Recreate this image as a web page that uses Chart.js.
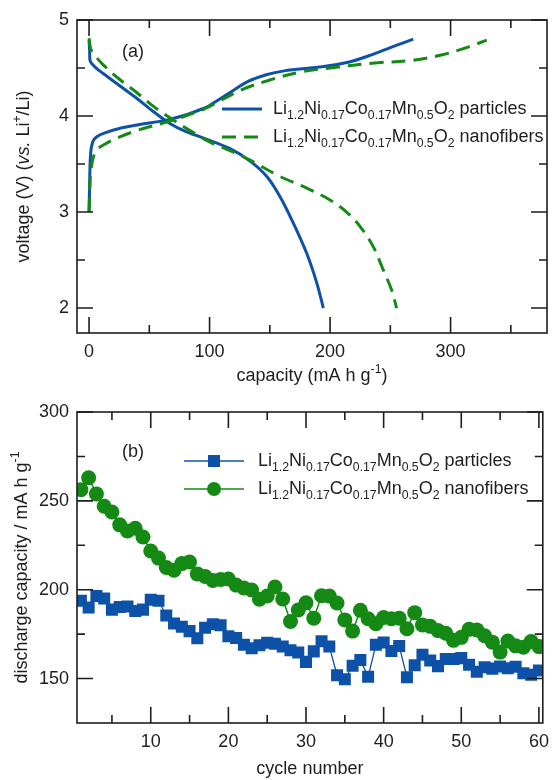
<!DOCTYPE html>
<html>
<head>
<meta charset="utf-8">
<script src="https://cdn.jsdelivr.net/npm/chart.js@4/dist/chart.umd.min.js"></script>
<style>
  html, body { margin: 0; padding: 0; background: #fff; }
  .panel { width: 557px; height: 390px; }
  canvas { display: block; }
</style>
</head>
<body>
<div class="panel"><canvas id="chartA" width="557" height="390"></canvas></div>
<div class="panel"><canvas id="chartB" width="557" height="390"></canvas></div>
<script>
// (a) charge / discharge curves, capacity in mA h g-1, voltage in V
const particleChargeCap = [0, 0.5, 1, 2, 3.8, 7, 12, 25, 40, 65, 80, 95, 100, 114, 132, 147, 162, 191, 215, 235, 256, 269];
const particleChargeVolt = [3.0, 3.3, 3.55, 3.68, 3.75, 3.79, 3.82, 3.87, 3.906, 3.96, 4.01, 4.08, 4.11, 4.22, 4.36, 4.43, 4.47, 4.51, 4.56, 4.64, 4.74, 4.80];
const particleDischargeCap = [0, 0.5, 1, 5, 12, 26, 40, 53.5, 67.4, 80, 95, 117, 133.6, 147.5, 158.5, 169.7, 180.6, 189, 194.4];
const particleDischargeVolt = [4.79, 4.68, 4.57, 4.51, 4.44, 4.31, 4.18, 4.045, 3.92, 3.84, 3.77, 3.66, 3.53, 3.37, 3.16, 2.88, 2.57, 2.26, 2.0];
const fiberChargeCap = [0, 0.8, 1.5, 3.3, 6.6, 15, 25, 40, 65, 80, 95, 100, 126, 150, 176, 200, 235, 268, 294, 315, 330];
const fiberChargeVolt = [3.0, 3.3, 3.42, 3.56, 3.65, 3.72, 3.78, 3.85, 3.94, 4.0, 4.07, 4.1, 4.27, 4.375, 4.46, 4.5, 4.55, 4.58, 4.64, 4.72, 4.79];
const fiberDischargeCap = [0, 1, 2.4, 12, 26, 40, 53.5, 67.4, 81, 100, 117, 133.6, 158.5, 180.6, 200, 213.7, 224.8, 235.8, 244, 251, 255.2];
const fiberDischargeVolt = [4.81, 4.72, 4.67, 4.53, 4.375, 4.24, 4.1, 3.98, 3.87, 3.73, 3.64, 3.54, 3.37, 3.25, 3.125, 3.0, 2.85, 2.64, 2.4, 2.19, 2.0];

// (b) discharge capacity per cycle
const cycles = [1, 2, 3, 4, 5, 6, 7, 8, 9, 10, 11, 12, 13, 14, 15, 16, 17, 18, 19, 20,
  21, 22, 23, 24, 25, 26, 27, 28, 29, 30, 31, 32, 33, 34, 35, 36, 37, 38, 39, 40,
  41, 42, 43, 44, 45, 46, 47, 48, 49, 50, 51, 52, 53, 54, 55, 56, 57, 58, 59, 60];
const particleCapacity = [193.8, 190.0, 196.4, 195.0, 188.8, 190.3, 190.6, 188.0, 188.8, 194.4,
  193.8, 185.5, 181.0, 179.2, 176.7, 172.7, 178.6, 180.6, 180.0, 173.8,
  172.8, 169.0, 167.1, 168.7, 170.2, 169.6, 168.1, 165.9, 164.7, 159.4,
  165.3, 171.0, 168.1, 151.9, 149.6, 157.2, 160.5, 151.0, 169.0, 170.3,
  165.5, 168.3, 150.8, 157.5, 163.4, 160.2, 157.0, 161.0, 161.0, 161.5,
  157.8, 153.8, 156.4, 155.6, 156.8, 155.8, 156.7, 153.0, 152.1, 154.5];
const fiberCapacity = [256.3, 263.0, 253.9, 247.0, 243.7, 236.5, 233.0, 234.6, 229.7, 221.8,
  217.8, 212.5, 211.0, 214.7, 215.6, 208.9, 207.5, 205.2, 205.8, 206.0,
  202.6, 201.0, 199.8, 194.6, 196.5, 201.5, 194.8, 182.1, 188.6, 192.6,
  184.0, 196.6, 196.4, 192.5, 183.0, 176.7, 188.4, 183.7, 180.9, 184.4,
  183.7, 184.0, 178.0, 187.1, 180.2, 179.4, 177.0, 175.5, 171.5, 173.2,
  177.7, 177.4, 174.1, 170.5, 164.9, 171.1, 168.4, 167.6, 170.8, 168.0];

// axis ticks (minor + major)
const capTicks = [0, 50, 100, 150, 200, 250, 300, 350];
const voltTicks = [2, 2.5, 3, 3.5, 4, 4.5, 5];
const cycleTicks = [5, 10, 15, 20, 25, 30, 35, 40, 45, 50, 55, 60];
const dischargeTicks = [150, 175, 200, 225, 250, 275, 300];

const blue = '#0d52a8';
const green = '#148a14';
const ink = '#1e1e1e';
const family = '"Liberation Sans", Arial, sans-serif';

const particleName = [['Li', ''], ['1.2', 'sub'], ['Ni', ''], ['0.17', 'sub'], ['Co', ''], ['0.17', 'sub'], ['Mn', ''], ['0.5', 'sub'], ['O', ''], ['2', 'sub'], [' particles', '']];
const fiberName = [['Li', ''], ['1.2', 'sub'], ['Ni', ''], ['0.17', 'sub'], ['Co', ''], ['0.17', 'sub'], ['Mn', ''], ['0.5', 'sub'], ['O', ''], ['2', 'sub'], [' nanofibers', '']];

Chart.defaults.font.family = family;
Chart.defaults.font.size = 18;
Chart.defaults.color = ink;

function pairs(xs, ys) {
  return xs.map((x, i) => ({ x, y: ys[i] }));
}

function drawRich(ctx, parts, x, y, size, align) {
  const fontFor = (kind) => (kind === 'it' ? 'italic ' : '') + (kind === 'sub' || kind === 'sup' ? size * 0.68 : size) + 'px ' + family;
  let total = 0;
  parts.forEach(([text, kind]) => { ctx.font = fontFor(kind); total += ctx.measureText(text).width; });
  let cx = align === 'center' ? x - total / 2 : x;
  ctx.textAlign = 'left';
  ctx.textBaseline = 'alphabetic';
  parts.forEach(([text, kind]) => {
    ctx.font = fontFor(kind);
    const dy = kind === 'sub' ? size * 0.28 : kind === 'sup' ? -size * 0.42 : 0;
    ctx.fillText(text, cx, y + dy);
    cx += ctx.measureText(text).width;
  });
}

function isMajor(v, step) {
  return Math.abs(v / step - Math.round(v / step)) < 1e-6;
}

// frame with inward ticks on all four sides
const framePlugin = {
  id: 'frame',
  afterDraw(chart, args, opts) {
    const { ctx, chartArea: a, scales } = chart;
    ctx.save();
    ctx.strokeStyle = ink;
    ctx.lineWidth = 1.6;
    ctx.beginPath();
    scales.x.ticks.forEach((t) => {
      const px = scales.x.getPixelForValue(t.value);
      const len = isMajor(t.value, opts.xMajor) ? 16 : 8;
      ctx.moveTo(px, a.bottom); ctx.lineTo(px, a.bottom - len);
      ctx.moveTo(px, a.top); ctx.lineTo(px, a.top + len);
    });
    scales.y.ticks.forEach((t) => {
      const py = scales.y.getPixelForValue(t.value);
      const len = isMajor(t.value, opts.yMajor) ? 16 : 8;
      ctx.moveTo(a.left, py); ctx.lineTo(a.left + len, py);
      ctx.moveTo(a.right, py); ctx.lineTo(a.right - len, py);
    });
    ctx.stroke();
    ctx.strokeRect(a.left, a.top, a.right - a.left, a.bottom - a.top);

    ctx.fillStyle = ink;
    // panel label
    drawRich(ctx, [[opts.panel, '']], a.left + 45, a.top + opts.panelY, 18, 'left');
    // x title
    drawRich(ctx, opts.xTitle, (a.left + a.right) / 2, opts.xTitleY, 18, 'center');
    // y title
    ctx.save();
    ctx.translate(opts.yTitleX, (a.top + a.bottom) / 2);
    ctx.rotate(-Math.PI / 2);
    drawRich(ctx, opts.yTitle, 0, 0, 18, 'center');
    ctx.restore();

    // legend
    opts.legend.forEach((item) => {
      ctx.save();
      ctx.strokeStyle = item.color;
      ctx.fillStyle = item.color;
      ctx.lineWidth = item.lineWidth;
      ctx.setLineDash(item.dash || []);
      ctx.beginPath();
      ctx.moveTo(item.x0, item.y);
      ctx.lineTo(item.x1, item.y);
      ctx.stroke();
      ctx.setLineDash([]);
      const mx = (item.x0 + item.x1) / 2;
      if (item.marker === 'rect') {
        ctx.fillRect(mx - 6, item.y - 6, 12, 12);
      } else if (item.marker === 'circle') {
        ctx.beginPath();
        ctx.arc(mx, item.y, 7, 0, Math.PI * 2);
        ctx.fill();
      }
      ctx.restore();
      ctx.fillStyle = ink;
      drawRich(ctx, item.label, item.textX, item.y + item.dy, 18, 'left');
    });
    ctx.restore();
  },
};

function axis(min, max, ticks, major, fitKey, fitSize) {
  return {
    type: 'linear',
    min,
    max,
    afterBuildTicks: (s) => { s.ticks = ticks.map((v) => ({ value: v })); },
    afterFit: (s) => { s[fitKey] = fitSize; },
    grid: { display: false, drawTicks: false },
    border: { display: false },
    ticks: {
      autoSkip: false,
      maxRotation: 0,
      padding: 8,
      color: ink,
      font: { size: 18 },
      callback: (v) => (isMajor(v, major) ? String(v) : ''),
    },
  };
}

new Chart(document.getElementById('chartA'), {
  type: 'scatter',
  data: {
    datasets: [
      { data: pairs(fiberChargeCap, fiberChargeVolt), borderColor: green, borderDash: [14, 8] },
      { data: pairs(fiberDischargeCap, fiberDischargeVolt), borderColor: green, borderDash: [14, 8] },
      { data: pairs(particleChargeCap, particleChargeVolt), borderColor: blue },
      { data: pairs(particleDischargeCap, particleDischargeVolt), borderColor: blue },
    ].map((d) => Object.assign({ showLine: true, pointRadius: 0, borderWidth: 3, tension: 0.35, fill: false }, d)),
  },
  options: {
    responsive: false,
    animation: false,
    layout: { padding: { top: 20, right: 10, left: 0, bottom: 0 } },
    plugins: {
      legend: { display: false },
      tooltip: { enabled: false },
      frame: {
        xMajor: 100,
        yMajor: 1,
        panel: '(a)',
        panelY: 37,
        xTitle: [['capacity (mA h g', ''], ['-1', 'sup'], [')', '']],
        xTitleY: 381,
        yTitleX: 29,
        yTitle: [['voltage (V) (', ''], ['vs.', 'it'], [' Li', ''], ['+', 'sup'], ['/Li)', '']],
        legend: [
          { x0: 222, x1: 262, y: 109, textX: 273, dy: 5, color: blue, lineWidth: 3, label: particleName },
          { x0: 222, x1: 262, y: 137, textX: 273, dy: 5, color: green, lineWidth: 3, dash: [14, 8], label: fiberName },
        ],
      },
    },
    scales: {
      x: axis(-10, 380, capTicks, 100, 'height', 57),
      y: axis(1.74, 5, voltTicks, 1, 'width', 77),
    },
  },
  plugins: [framePlugin],
});

new Chart(document.getElementById('chartB'), {
  type: 'scatter',
  data: {
    datasets: [
      { data: pairs(cycles, fiberCapacity), borderColor: green, backgroundColor: green, pointStyle: 'circle', pointRadius: 7.5, borderWidth: 1.5 },
      { data: pairs(cycles, particleCapacity), borderColor: blue, backgroundColor: blue, pointStyle: 'rect', pointRadius: 8.5, borderWidth: 1.3 },
    ].map((d) => Object.assign({ showLine: true, pointBorderWidth: 0, tension: 0, fill: false }, d)),
  },
  options: {
    responsive: false,
    animation: false,
    layout: { padding: { top: 22, right: 10, left: 0, bottom: 0 } },
    plugins: {
      legend: { display: false },
      tooltip: { enabled: false },
      frame: {
        xMajor: 10,
        yMajor: 50,
        panel: '(b)',
        panelY: 45,
        xTitle: [['cycle number', '']],
        xTitleY: 384,
        yTitleX: 27,
        yTitle: [['discharge capacity / mA h g', ''], ['-1', 'sup']],
        legend: [
          { x0: 184, x1: 244, y: 71, textX: 258, dy: 5, color: blue, lineWidth: 1.3, marker: 'rect', label: particleName },
          { x0: 184, x1: 244, y: 99, textX: 258, dy: 5, color: green, lineWidth: 1.5, marker: 'circle', label: fiberName },
        ],
      },
    },
    scales: {
      x: axis(0.5, 60.5, cycleTicks, 10, 'height', 57),
      y: axis(125, 300, dischargeTicks, 50, 'width', 77),
    },
  },
  plugins: [framePlugin],
});
</script>
</body>
</html>
